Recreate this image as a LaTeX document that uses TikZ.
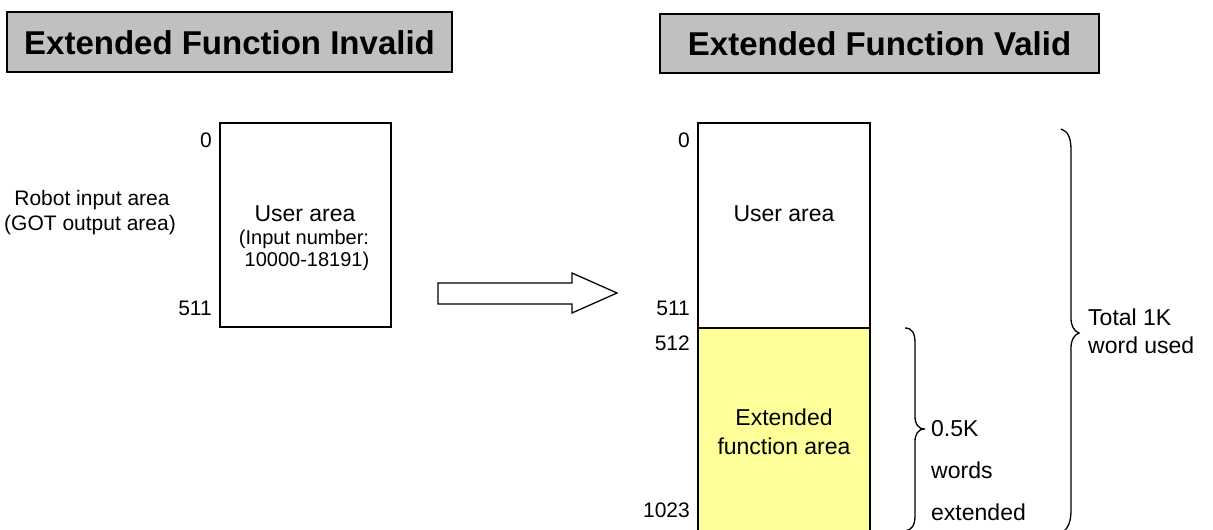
\documentclass[tikz,border=0pt]{standalone}
\usepackage{fontspec}
\setmainfont{Liberation Sans}
\definecolor{titlegray}{HTML}{C0C0C0}
\definecolor{extyellow}{HTML}{FFFF99}
\begin{document}
\begin{tikzpicture}[x=1pt,y=-1pt,
  titlebox/.style={draw=black,line width=2pt,fill=titlegray},
  membox/.style={draw=black,line width=1.3pt},
  lbl/.style={inner sep=0pt,anchor=base,font=\fontsize{23}{23}\selectfont},
  num/.style={inner sep=0pt,anchor=base east,font=\fontsize{21}{21}\selectfont},
  side/.style={inner sep=0pt,anchor=base,font=\fontsize{21}{21}\selectfont},
  small/.style={inner sep=0pt,anchor=base,font=\fontsize{20}{20}\selectfont},
  brtext/.style={inner sep=0pt,anchor=base west,font=\fontsize{23}{23}\selectfont},
  ttl/.style={inner sep=0pt,anchor=base,font=\fontsize{33}{33}\selectfont\bfseries},
  bracestyle/.style={draw=black,line width=1.3pt}]
\useasboundingbox (0,0) rectangle (1213,530);
\clip (0,0) rectangle (1213,530);
% titles
\draw[titlebox] (7,12) rectangle (452,72);
\node[ttl] (t1) at (229.5,54) {Extended Function Invalid};
\draw[titlebox] (660,14) rectangle (1099,73);
\node[ttl] (t2) at (879.5,55.5) {Extended Function Valid};
% left memory
\draw[membox,fill=white] (220,123) rectangle (391,327);
\node[num] (l0) at (212,147.5) {0};
\node[num] (l511) at (212,315) {511};
\node[side] (r1) at (92,205.5) {Robot input area};
\node[side] (r2) at (90,230) {(GOT output area)};
\node[lbl] (lu) at (305,221) {User area};
\node[small] (li1) at (304,244) {(Input number:};
\node[small] (li2) at (307,266) {10000-18191)};
% arrow
\draw[line width=1.3pt,fill=white,line join=miter] (438,283) -- (572,283) -- (572,273) -- (617,293) -- (572,313) -- (572,304) -- (438,304) -- cycle;
% right memory
\draw[membox,fill=extyellow] (698,328) rectangle (870,540);
\draw[membox,fill=white] (698,123) rectangle (870,328);
\node[num] (r0) at (690,147.5) {0};
\node[num] (r511) at (690,315) {511};
\node[num] (r512) at (690,350.5) {512};
\node[num] (r1023) at (690,517.5) {1023};
\node[lbl] (ru) at (784,221) {User area};
\node[lbl] (re1) at (784,425) {Extended};
\node[lbl] (re2) at (784,454) {function area};
% small brace
\draw[bracestyle] (905,328) .. controls (912,328) and (915,333) .. (915,343) -- (915,416) .. controls (915,424) and (918,429) .. (925,429) .. controls (918,429) and (915,434) .. (915,442) -- (915,516) .. controls (915,525) and (912,530) .. (905,531);
\node[brtext] (b1) at (931,436) {0.5K};
\node[brtext] (b2) at (931,478) {words};
\node[brtext] (b3) at (931,520) {extended};
% big brace
\draw[bracestyle] (1061,129) .. controls (1068,131) and (1071,138) .. (1071,150) -- (1071,318) .. controls (1071,326) and (1074,331) .. (1079,333) .. controls (1074,335) and (1071,340) .. (1071,348) -- (1071,510) .. controls (1071,522) and (1068,528) .. (1063,532);
\node[brtext] (t1k) at (1088,325) {Total 1K};
\node[brtext] (t1w) at (1088,353) {word used};
\end{tikzpicture}
\end{document}
